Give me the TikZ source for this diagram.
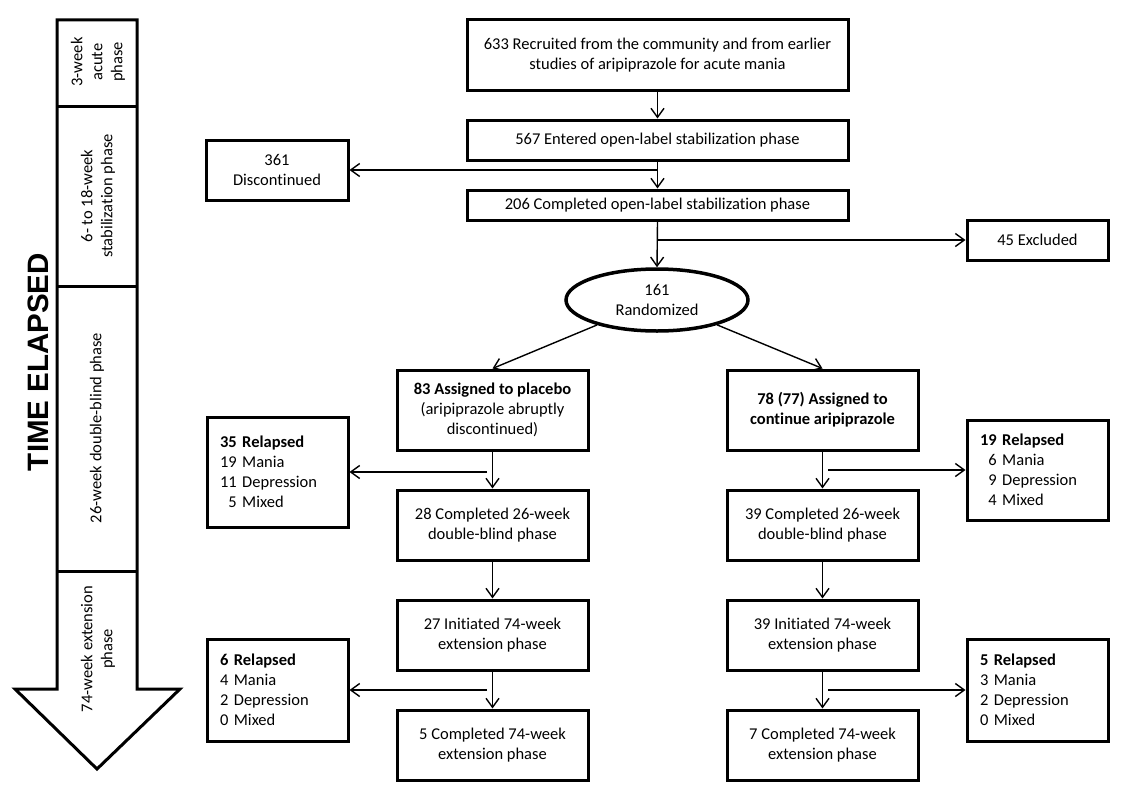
\documentclass[tikz,border=0pt]{standalone}
\usepackage{fontspec}
\setmainfont{Carlito}[Ligatures=CommonOff]
\newfontfamily\arialfont{Liberation Sans}
\usetikzlibrary{arrows.meta,shapes.geometric}

\begin{document}
\begin{tikzpicture}[x=1pt,y=-1pt,font=\fontsize{16.5}{20}\selectfont,
  >={Straight Barb[length=9pt,width=13pt]},
  box/.style={draw,line width=3pt,minimum width=191pt,minimum height=#1,align=center,inner sep=2pt},
  box/.default=70pt,
  relbox/.style={draw,line width=3pt,text width=115pt,inner xsep=13pt,minimum height=#1,align=left},
  arr/.style={->,line width=1.4pt}]
\useasboundingbox (0,0) rectangle (1131,800);
% time line on the left
\draw[line width=3pt] (57,20) -- (137,20) -- (137,689) -- (180,689) -- (97,769) -- (15,689) -- (57,689) -- cycle;
\foreach \y in {106,286,571} \draw[line width=3pt] (57,\y) -- (137,\y);
\node[rotate=90,align=center] (acute) at (98,62) {3-week\\acute\\phase};
\node[rotate=90,align=center] (stab) at (98,196) {6- to 18-week\\stabilization phase};
\node[rotate=90] (dblind) at (97,428) {26-week double-blind phase};
\node[rotate=90,align=center] (ext) at (98,649) {74-week extension\\phase};
\node[rotate=90,font={\arialfont\bfseries\fontsize{29.5}{30}\selectfont}] (elapsed) at (38,362) {TIME ELAPSED};
% open-label part
\node[box=70pt,minimum width=381pt] (633) at (657.5,55) {633 Recruited from the community and from earlier\\studies of aripiprazole for acute mania};
\node[box=40pt,minimum width=381pt] (567) at (657.5,140) {567 Entered open-label stabilization phase};
\node[box=30pt,minimum width=381pt] (206) at (657.5,205) {206 Completed open-label stabilization phase};
\node[box=60pt,minimum width=142pt] (361) at (277,170) {361\\Discontinued};
\node[box=40pt,minimum width=141pt] (45) at (1037.5,240) {45 Excluded};
\node[ellipse,draw,line width=3.5pt,minimum width=182pt,minimum height=62pt,align=center,inner sep=0pt] (161) at (657,300) {161\\Randomized};
% placebo arm
\node[box=80pt] (83) at (492.5,410) {\textbf{83 Assigned to placebo}\\(aripiprazole abruptly\\discontinued)};
\node[relbox=110pt] (35) at (277.5,472) {\textbf{35 Relapsed}\\19 Mania\\11 Depression\\\hphantom{1}5 Mixed};
\node[box] (28) at (492.5,525) {28 Completed 26-week\\double-blind phase};
\node[box] (27) at (492.5,635) {27 Initiated 74-week\\extension phase};
\node[relbox=102pt] (6) at (277.5,690) {\textbf{6 Relapsed}\\4 Mania\\2 Depression\\0 Mixed};
\node[box] (5c) at (492.5,745) {5 Completed 74-week\\extension phase};
% aripiprazole arm
\node[box=80pt] (78) at (822.5,410) {\textbf{78 (77) Assigned to}\\\textbf{continue aripiprazole}};
\node[relbox=100pt] (19) at (1037.5,470) {\textbf{19 Relapsed}\\\hphantom{1}6 Mania\\\hphantom{1}9 Depression\\\hphantom{1}4 Mixed};
\node[box] (39c) at (822.5,525) {39 Completed 26-week\\double-blind phase};
\node[box] (39i) at (822.5,635) {39 Initiated 74-week\\extension phase};
\node[relbox=102pt] (5r) at (1037.5,690) {\textbf{5 Relapsed}\\3 Mania\\2 Depression\\0 Mixed};
\node[box] (7) at (822.5,745) {7 Completed 74-week\\extension phase};
% branch points
\coordinate (j361) at (657.5,170);
\coordinate (j45) at (657.5,240);
\coordinate (j35) at (487,472);
\coordinate (j19) at (828,470);
\coordinate (j6) at (487,690);
\coordinate (j5) at (828,690);
% arrows
\draw[arr] (633.south) -- (567.north);
\draw[arr] (567.south) -- (206.north);
\draw[arr] (j361) -- (361.east);
\draw[arr] (206.south) -- (161.north);
\draw[arr] (j45) -- (45.west);
\draw[arr] (161) -- (83.north);
\draw[arr] (161) -- (78.north);
\draw[arr] (83.south) -- (28.north);
\draw[arr] (j35) -- (35.east);
\draw[arr] (28.south) -- (27.north);
\draw[arr] (27.south) -- (5c.north);
\draw[arr] (j6) -- (6.east);
\draw[arr] (78.south) -- (39c.north);
\draw[arr] (j19) -- (19.west);
\draw[arr] (39c.south) -- (39i.north);
\draw[arr] (39i.south) -- (7.north);
\draw[arr] (j5) -- (5r.west);
\end{tikzpicture}
\end{document}
